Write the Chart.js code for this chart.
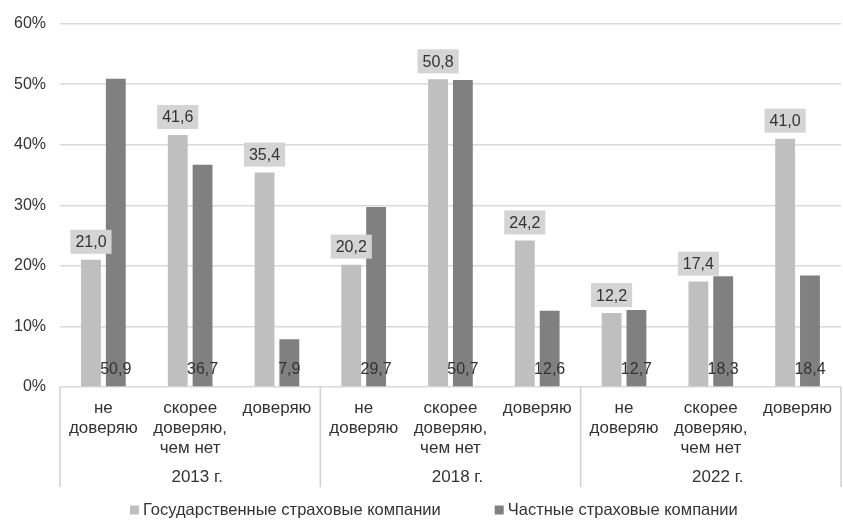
<!DOCTYPE html>
<html>
<head>
<meta charset="utf-8">
<script src="https://cdn.jsdelivr.net/npm/chart.js@4.4.0/dist/chart.umd.min.js"></script>
<style>
  html, body { margin: 0; padding: 0; background: #ffffff; }
  #wrap { width: 843px; height: 521px; position: relative; }
</style>
</head>
<body>
<div id="wrap"><canvas id="c"></canvas></div>
<script>
const categories = [
  ['не', 'доверяю'], ['скорее', 'доверяю,', 'чем нет'], ['доверяю'],
  ['не', 'доверяю'], ['скорее', 'доверяю,', 'чем нет'], ['доверяю'],
  ['не', 'доверяю'], ['скорее', 'доверяю,', 'чем нет'], ['доверяю']
];
const years = ['2013 г.', '2018 г.', '2022 г.'];
const stateCompanies = [21.0, 41.6, 35.4, 20.2, 50.8, 24.2, 12.2, 17.4, 41.0];
const privateCompanies = [50.9, 36.7, 7.9, 29.7, 50.7, 12.6, 12.7, 18.3, 18.4];
const seriesNames = ['Государственные страховые компании', 'Частные страховые компании'];
const yTicks = [0, 10, 20, 30, 40, 50, 60];

const FONT = "'Liberation Sans', Arial, sans-serif";
const TEXT = '#333333';
const LIGHT = '#bfbfbf';
const DARK = '#808080';

function fmt(v) { return v.toFixed(1).replace('.', ','); }

const overlay = {
  id: 'overlay',
  afterDatasetsDraw(chart) {
    const ctx = chart.ctx;
    const yScale = chart.scales.y;
    const zeroY = yScale.getPixelForValue(0);
    ctx.save();
    ctx.font = '16px ' + FONT;
    ctx.textAlign = 'center';
    ctx.textBaseline = 'middle';
    chart.getDatasetMeta(0).data.forEach((bar, i) => {
      const t = fmt(stateCompanies[i]);
      const w = ctx.measureText(t).width + 10;
      const h = 24;
      const bottom = bar.y - 6;
      ctx.fillStyle = '#d4d4d4';
      ctx.fillRect(bar.x - w / 2, bottom - h, w, h);
      ctx.fillStyle = '#333333';
      ctx.fillText(t, bar.x, bottom - h / 2 + 1);
    });
    chart.getDatasetMeta(1).data.forEach((bar, i) => {
      ctx.fillStyle = '#333333';
      ctx.fillText(fmt(privateCompanies[i]), bar.x, zeroY - 17);
    });
    ctx.restore();
  },
  afterDraw(chart) {
    const ctx = chart.ctx;
    const xs = chart.scales.x;
    const area = chart.chartArea;
    const n = categories.length;
    const per = n / years.length;
    const step = (xs.right - xs.left) / n;
    ctx.save();
    ctx.strokeStyle = '#d0d0d0';
    ctx.lineWidth = 1.5;
    for (let g = 0; g <= years.length; g++) {
      const x = xs.left + g * per * step;
      ctx.beginPath();
      ctx.moveTo(x, area.bottom);
      ctx.lineTo(x, area.bottom + 100);
      ctx.stroke();
    }
    ctx.fillStyle = '#333333';
    ctx.font = '17px ' + FONT;
    ctx.textAlign = 'center';
    ctx.textBaseline = 'middle';
    years.forEach((yr, g) => {
      const x = (xs.getPixelForValue(g * per) + xs.getPixelForValue(g * per + per - 1)) / 2 + 7;
      ctx.fillText(yr, x, area.bottom + 90);
    });
    ctx.font = '16.5px ' + FONT;
    ctx.textAlign = 'left';
    const ly = 510;
    let lx = 130;
    chart.data.datasets.forEach((ds) => {
      ctx.fillStyle = ds.backgroundColor;
      ctx.fillRect(lx, ly - 4.5, 9, 9);
      ctx.fillStyle = TEXT;
      ctx.fillText(ds.label, lx + 13, ly);
      lx += 13 + ctx.measureText(ds.label).width + 54;
    });
    ctx.restore();
  }
};

new Chart(document.getElementById('c'), {
  type: 'bar',
  data: {
    labels: categories,
    datasets: [
      { label: seriesNames[0], data: stateCompanies, backgroundColor: LIGHT,
        categoryPercentage: 0.572, barPercentage: 0.8 },
      { label: seriesNames[1], data: privateCompanies, backgroundColor: DARK,
        categoryPercentage: 0.572, barPercentage: 0.8 }
    ]
  },
  options: {
    responsive: true,
    maintainAspectRatio: false,
    animation: false,
    layout: { padding: { top: 21, right: -4, bottom: 34, left: 0 } },
    plugins: {
      legend: { display: false },
      tooltip: { enabled: false }
    },
    scales: {
      x: {
        grid: { display: false, drawTicks: false },
        border: { display: false },
        ticks: {
          color: TEXT,
          font: { family: FONT, size: 17, lineHeight: 1.18 },
          padding: 11,
          autoSkip: false,
          maxRotation: 0,
          minRotation: 0
        },
        afterFit(scale) { scale.height = 100; }
      },
      y: {
        min: 0,
        max: 60,
        afterBuildTicks(scale) { scale.ticks = yTicks.map(v => ({ value: v })); },
        grid: { color: '#d9d9d9', lineWidth: 1.5, drawTicks: false },
        border: { display: false },
        ticks: {
          color: TEXT,
          font: { family: FONT, size: 16 },
          padding: 14,
          callback: v => v + '%'
        },
        afterFit(scale) { scale.width = 60; }
      }
    }
  },
  plugins: [overlay]
});
</script>
</body>
</html>
